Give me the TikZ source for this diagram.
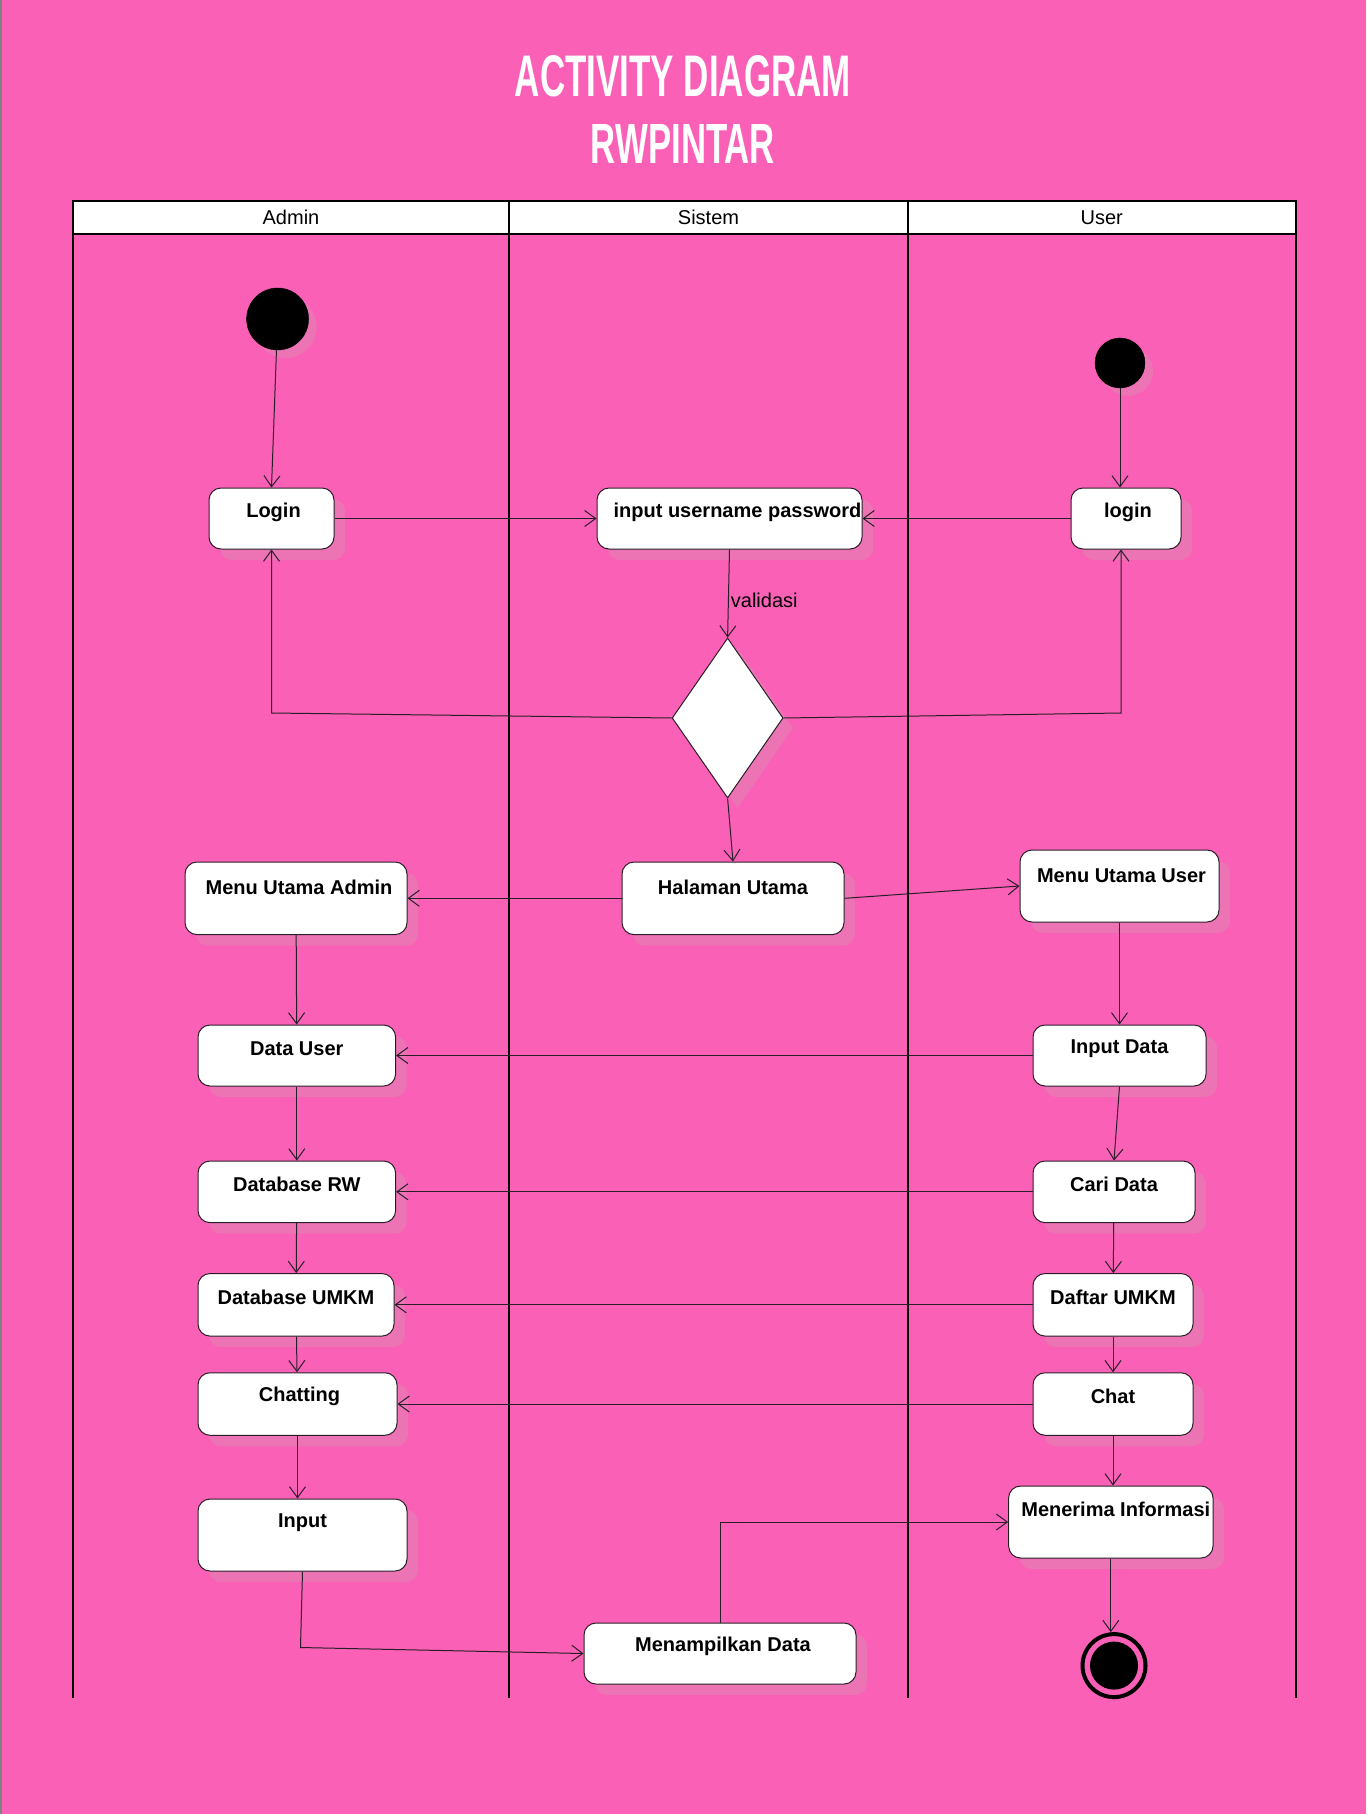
\documentclass[tikz,border=0pt]{standalone}
\usepackage{fontspec}
\setmainfont{Liberation Sans}
\usetikzlibrary{arrows.meta,shapes.geometric,calc}
\definecolor{bgpink}{RGB}{250,96,182}
\definecolor{shpink}{RGB}{236,116,180}
\definecolor{edgec}{RGB}{40,30,40}
\tikzset{
  box/.style={draw=edgec, line width=1pt, fill=white, rounded corners=12pt, inner sep=0pt,
    preaction={fill=shpink, draw=none, transform canvas={xshift=11pt,yshift=-11pt}}},
  lbl/.style={font=\fontsize{20}{24}\selectfont\bfseries, inner sep=0pt, anchor=center},
  hdr/.style={draw=black, line width=2pt, fill=white, inner sep=0pt, font=\fontsize{20}{24}\selectfont},
  flow/.style={draw=edgec, line width=1pt, -{Straight Barb[length=11pt,width=16pt,line width=1pt]}},
  startc/.style={circle, fill=black, draw=black, inner sep=0pt,
    preaction={fill=shpink, draw=none, transform canvas={xshift=8pt,yshift=-8pt}}},
  lane/.style={draw=black, line width=2pt}
}
\begin{document}
\begin{tikzpicture}[x=1pt,y=-1pt]
\fill[bgpink] (0,0) rectangle (1366,1814);
\useasboundingbox (0,0) rectangle (1366,1814);
\draw[gray, line width=1.5pt] (0.75,0) -- (0.75,1814);

% title
\node[text=white, inner sep=0pt] (t1) at (683,76.5) {\resizebox{336pt}{41pt}{\bfseries ACTIVITY DIAGRAM}};
\node[text=white, inner sep=0pt] (t2) at (683,144) {\resizebox{184pt}{39pt}{\bfseries RWPINTAR}};

% lanes
\draw[lane] (73,234) -- (73,1698);
\draw[lane] (509,234) -- (509,1698);
\draw[lane] (908,234) -- (908,1698);
\draw[lane] (1295.5,234) -- (1295.5,1698);
\node[hdr, minimum width=436pt, minimum height=33pt] (hA) at (291,217.5) {\raisebox{-2.5pt}{Admin}};
\node[hdr, minimum width=399pt, minimum height=33pt] (hS) at (708.5,217.5) {\raisebox{-2.5pt}{Sistem}};
\node[hdr, minimum width=387.5pt, minimum height=33pt] (hU) at (1101.75,217.5) {\raisebox{-2.5pt}{User}};

% start nodes
\node[startc, minimum size=62pt] (s1) at (277.6,319) {};
\node[startc, minimum size=50pt] (s2) at (1120,363) {};

% activity boxes
\node[box, minimum width=125pt, minimum height=61pt] (login) at (271.5,518.5) {};
\node[box, minimum width=265pt, minimum height=61pt] (inp) at (729.5,518.5) {};
\node[box, minimum width=110pt, minimum height=61pt] (ulogin) at (1126,518.5) {};
\node[diamond, draw=edgec, line width=1pt, fill=white, minimum width=111pt, minimum height=160pt, aspect=0.69, inner sep=0pt,
  preaction={fill=shpink, draw=none, transform canvas={xshift=10pt,yshift=-10pt}}] (dia) at (727.6,718) {};
\node[box, minimum width=222pt, minimum height=72.6pt] (hal) at (733,898.3) {};
\node[box, minimum width=222pt, minimum height=72.6pt] (mua) at (296,898.3) {};
\node[box, minimum width=199pt, minimum height=72pt] (muu) at (1119.5,886) {};
\node[box, minimum width=197.6pt, minimum height=61pt] (du) at (296.8,1055.5) {};
\node[box, minimum width=173pt, minimum height=61pt] (idata) at (1119.5,1055.5) {};
\node[box, minimum width=197.6pt, minimum height=61.6pt] (dbrw) at (296.8,1191.8) {};
\node[box, minimum width=162pt, minimum height=61.6pt] (cari) at (1114,1191.8) {};
\node[box, minimum width=196pt, minimum height=62.5pt] (dbumkm) at (296,1304.8) {};
\node[box, minimum width=160pt, minimum height=62.5pt] (daftar) at (1113,1304.8) {};
\node[box, minimum width=199pt, minimum height=62.5pt] (chatting) at (297.5,1404) {};
\node[box, minimum width=160pt, minimum height=62.5pt] (chat) at (1113,1404) {};
\node[box, minimum width=209pt, minimum height=72pt] (input) at (302.5,1535) {};
\node[box, minimum width=204.4pt, minimum height=72pt] (menerima) at (1110.8,1522) {};
\node[box, minimum width=272pt, minimum height=61pt] (menamp) at (720,1653.5) {};

% end node
\node[circle, draw=black, line width=4pt, fill=bgpink, minimum size=63pt, inner sep=0pt] (endo) at (1114,1665.6) {};
\node[circle, fill=black, minimum size=48pt, inner sep=0pt] (endi) at (1114,1665.6) {};

% labels
\node[lbl] (loginT) at ([xshift=2pt,yshift=-25pt]login.north) {Login};
\node[lbl] (inpT) at ([xshift=8pt,yshift=-25pt]inp.north) {input username password};
\node[lbl] (uloginT) at ([xshift=2pt,yshift=-25pt]ulogin.north) {login};
\node[lbl] (halT) at ([yshift=-26pt]hal.north) {Halaman Utama};
\node[lbl] (muaT) at ([xshift=3pt,yshift=-26pt]mua.north) {Menu Utama Admin};
\node[lbl] (muuT) at ([xshift=2pt,yshift=-26pt]muu.north) {Menu Utama User};
\node[lbl] (duT) at ([yshift=-24pt]du.north) {Data User};
\node[lbl] (idataT) at ([yshift=-24pt]idata.north) {Input Data};
\node[lbl] (dbrwT) at ([yshift=-24pt]dbrw.north) {Database RW};
\node[lbl] (cariT) at ([yshift=-24pt]cari.north) {Cari Data};
\node[lbl] (dbumkmT) at ([yshift=-24pt]dbumkm.north) {Database UMKM};
\node[lbl] (daftarT) at ([yshift=-24pt]daftar.north) {Daftar UMKM};
\node[lbl] (chattingT) at ([xshift=2pt,yshift=-24pt]chatting.north) {Chatting};
\node[lbl] (chatT) at ([yshift=-24pt]chat.north) {Chat};
\node[lbl] (inputT) at ([yshift=-24pt]input.north) {Input};
\node[lbl] (menerimaT) at ([xshift=5pt,yshift=-24pt]menerima.north) {Menerima Informasi};
\node[lbl] (menampT) at ([xshift=3pt,yshift=-24pt]menamp.north) {Menampilkan Data};

% connectors
\draw[flow] (s1) -- (login.north);
\draw[flow] (s2.south) -- (s2.south |- ulogin.north);
\draw[flow] (login) -- (inp);
\draw[flow] (ulogin) -- (inp);
\draw[flow] (inp.south) -- node[anchor=west, pos=0.58, font=\fontsize{20}{24}\selectfont, inner sep=2pt] (val) {validasi} (dia.north);
\draw[flow] (dia.west) -- ([yshift=5pt]login.south |- dia.west) -- (login.south);
\draw[flow] (dia.east) -- ([xshift=-5pt,yshift=5pt]ulogin.south |- dia.east) -- ([xshift=-5pt]ulogin.south);
\draw[flow] (dia.south) -- (hal.north);
\draw[flow] (hal) -- (mua);
\draw[flow] (hal.east) -- (muu.west);
\draw[flow] (mua) -- (du);
\draw[flow] (muu) -- (idata);
\draw[flow] (idata) -- (du);
\draw[flow] (du) -- (dbrw);
\draw[flow] (idata.south) -- (cari.north);
\draw[flow] (cari) -- (dbrw);
\draw[flow] (dbrw) -- (dbumkm);
\draw[flow] (cari) -- (daftar);
\draw[flow] (daftar) -- (dbumkm);
\draw[flow] (dbumkm) -- (chatting);
\draw[flow] (daftar) -- (chat);
\draw[flow] (chat) -- (chatting);
\draw[flow] (chatting.south) -- (chatting.south |- input.north);
\draw[flow] (chat.south) -- (chat.south |- menerima.north);
\draw[flow] (input.south) -- ([xshift=-2pt,yshift=6pt]input.south |- menamp.west) -- (menamp.west);
\draw[flow] (menamp.north) -- (menamp.north |- menerima.west) -- (menerima.west);
\draw[flow] (menerima.south) -- (menerima.south |- endo.north);
\end{tikzpicture}
\end{document}
